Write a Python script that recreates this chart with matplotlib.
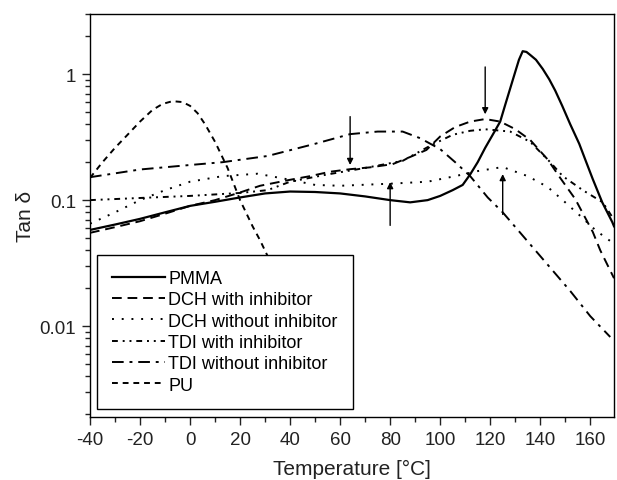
import matplotlib
matplotlib.use("Agg")
import matplotlib.pyplot as plt
from matplotlib.ticker import FixedLocator, MultipleLocator, NullFormatter, FixedFormatter

plt.rcParams['font.family'] = ['Liberation Sans', 'DejaVu Sans']
plt.rcParams['axes.unicode_minus'] = False

# PMMA (solid)
t_pmma = [-40, -30, -20, -10, 0, 10, 20, 30, 40, 50, 60, 70, 80, 88, 95, 100, 105, 109, 112,
          115, 118, 121, 124, 126, 128, 130, 131.5, 133, 134.5, 136, 138.3, 141, 143.6, 146,
          148.8, 152, 155.6, 158, 161, 164.8, 168.8, 169.5]
v_pmma = [0.058, 0.064, 0.071, 0.080, 0.090, 0.097, 0.105, 0.113, 0.117, 0.116, 0.113, 0.107,
          0.100, 0.096, 0.100, 0.108, 0.120, 0.132, 0.160, 0.200, 0.260, 0.330, 0.420, 0.570,
          0.770, 1.04, 1.30, 1.52, 1.50, 1.42, 1.30, 1.10, 0.91, 0.74, 0.56, 0.40, 0.28, 0.21,
          0.147, 0.096, 0.067, 0.062]

# DCH with inhibitor (long dashes)
t_dch_w = [-40, -30, -20, -10, 0, 10, 20, 28, 40, 48, 56, 64, 72, 81, 88, 94.5, 100, 106, 112,
           118, 124, 130, 136, 143, 148, 154, 161, 164, 169.5]
v_dch_w = [0.055, 0.061, 0.068, 0.078, 0.090, 0.100, 0.115, 0.130, 0.145, 0.155, 0.168, 0.176,
           0.182, 0.193, 0.220, 0.250, 0.320, 0.380, 0.420, 0.440, 0.420, 0.366, 0.300, 0.210,
           0.150, 0.102, 0.056, 0.040, 0.024]

# DCH without inhibitor (dotted)
t_dch_wo = [-40, -30, -20, -10, 0, 13, 27, 40, 50, 60, 80, 95, 106, 115, 125, 135, 143, 149,
            156, 162, 169.5]
v_dch_wo = [0.065, 0.080, 0.100, 0.120, 0.140, 0.155, 0.162, 0.145, 0.132, 0.130, 0.135, 0.140,
            0.155, 0.170, 0.183, 0.155, 0.127, 0.100, 0.075, 0.058, 0.045]

# TDI with inhibitor (dash-dot-dot)
t_tdi_w = [-40, -20, 0, 20, 31, 40, 55, 70, 85, 96, 105, 112, 118, 128, 136, 144, 149, 157, 165,
           169.5]
v_tdi_w = [0.100, 0.104, 0.108, 0.114, 0.120, 0.140, 0.160, 0.180, 0.205, 0.270, 0.330, 0.355,
           0.365, 0.350, 0.290, 0.200, 0.155, 0.120, 0.096, 0.070]

# TDI without inhibitor (dash-dot)
t_tdi_wo = [-40, -20, 0, 13, 31, 50, 64, 75, 85, 92, 100, 106, 112, 119, 125, 140, 152, 160, 168]
v_tdi_wo = [0.152, 0.175, 0.190, 0.200, 0.224, 0.280, 0.334, 0.350, 0.350, 0.310, 0.254, 0.200,
            0.155, 0.105, 0.080, 0.036, 0.019, 0.012, 0.0082]

# PU (short dashes)
t_pu = [-40, -35, -30, -25, -20, -15, -11, -7, -3, 0, 3, 6, 10, 15, 20, 25, 28, 31, 35, 40, 50]
v_pu = [0.150, 0.200, 0.260, 0.330, 0.420, 0.520, 0.580, 0.610, 0.600, 0.560, 0.490, 0.400,
        0.290, 0.180, 0.100, 0.062, 0.048, 0.036, 0.025, 0.015, 0.005]

# arrows: (x, tail value, head value)
arrows_x = [64, 118, 80, 125]
arrows_tail = [0.46, 1.14, 0.063, 0.077]
arrows_head = [0.19, 0.48, 0.139, 0.161]

fig = plt.figure(figsize=(6.17, 4.81), dpi=100)
ax = fig.add_axes([90 / 617, 63 / 481, 524 / 617, 403 / 481])

lw = 1.4
ax.plot(t_pmma, v_pmma, color='black', lw=1.6, ls='-', label='PMMA')
ax.plot(t_dch_w, v_dch_w, color='black', lw=lw, ls=(0, (5, 3)), label='DCH with inhibitor')
ax.plot(t_dch_wo, v_dch_wo, color='black', lw=lw, ls=(0, (1, 4)), label='DCH without inhibitor')
ax.plot(t_tdi_w, v_tdi_w, color='black', lw=lw, ls=(0, (3, 2.5, 1, 2.5, 1, 2.5)), label='TDI with inhibitor')
ax.plot(t_tdi_wo, v_tdi_wo, color='black', lw=lw, ls=(0, (6, 3, 1.5, 3)), label='TDI without inhibitor')
ax.plot(t_pu, v_pu, color='black', lw=lw, ls=(0, (3, 2.5)), label='PU')

for x, a, b in zip(arrows_x, arrows_tail, arrows_head):
    ax.annotate('', xy=(x, b), xytext=(x, a),
                arrowprops=dict(arrowstyle='-|>', color='black', lw=1.0,
                                mutation_scale=9, shrinkA=0, shrinkB=0))

ax.set_yscale('log')
ax.set_xlim(-40, 169.5)
ax.set_ylim(0.0019, 3.0)

ax.xaxis.set_major_locator(MultipleLocator(20))
ax.xaxis.set_minor_locator(MultipleLocator(10))
ax.yaxis.set_major_locator(FixedLocator([0.01, 0.1, 1]))
ax.yaxis.set_major_formatter(FixedFormatter(['0.01', '0.1', '1']))
minors = [m * 10.0 ** e for e in (-3, -2, -1, 0) for m in range(2, 10)]
ax.yaxis.set_minor_locator(FixedLocator(minors))
ax.yaxis.set_minor_formatter(NullFormatter())

ax.tick_params(which='both', direction='out', top=False, right=False, width=1.0,
               labelsize=13.5, colors='#222222')
ax.tick_params(which='major', length=6, pad=4)
ax.tick_params(which='minor', length=3.5)
for s in ax.spines.values():
    s.set_linewidth(1.0)

ax.set_xlabel('Temperature [°C]', fontsize=15, labelpad=8, color='#222222')
ax.set_ylabel('Tan δ', fontsize=15, labelpad=3, color='#222222')

leg = ax.legend(loc='lower left', bbox_to_anchor=(0.013, 0.02), fontsize=13,
                frameon=True, fancybox=False, edgecolor='black', framealpha=1,
                handlelength=2.9, handletextpad=0.2, labelspacing=0.24,
                borderpad=0.85, borderaxespad=0)
leg.get_frame().set_linewidth(1.0)

fig.savefig('out.png', dpi=100)
